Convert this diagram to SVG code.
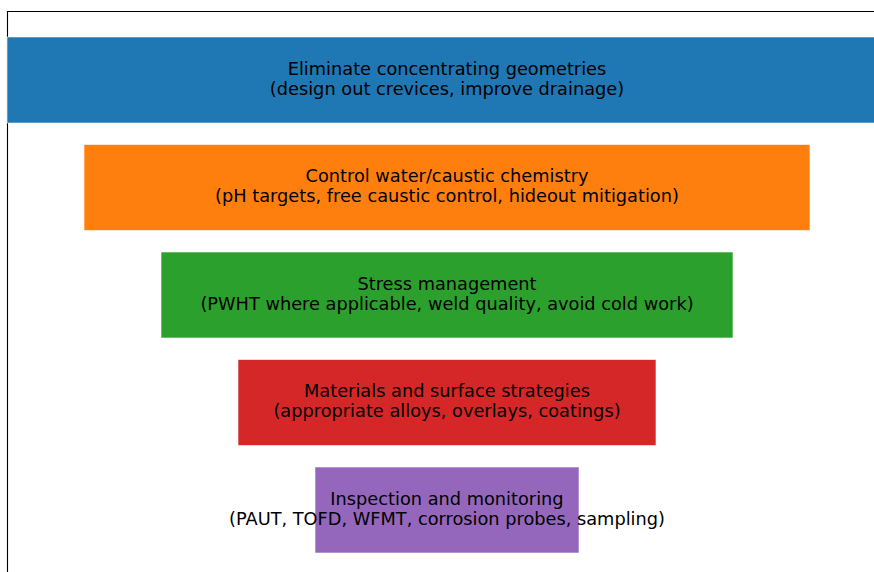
<svg xmlns="http://www.w3.org/2000/svg" width="874" height="572" viewBox="0 0 874 572">
<style>
.bar{stroke:#ffffff;stroke-width:0.6}
.lbl{font-family:"DejaVu Sans",sans-serif;font-size:17.75px;fill:#000;text-anchor:middle}
.frame{fill:none;stroke:#000;stroke-width:1.1}
</style>
<rect width="874" height="572" fill="#fff"/>
<path class="frame" d="M7.5,572 V11.5 H874"/>
<g id="n1">
<rect class="bar" x="7" y="37" width="880" height="86" fill="#1f77b4"/>
<text class="lbl" x="447" y="74.5">Eliminate concentrating geometries</text>
<text class="lbl" x="447" y="94.8">(design out crevices, improve drainage)</text>
</g>
<g id="n2">
<rect class="bar" x="84" y="144.5" width="726" height="86" fill="#ff7f0e"/>
<text class="lbl" x="447" y="182">Control water/caustic chemistry</text>
<text class="lbl" x="447" y="202.3">(pH targets, free caustic control, hideout mitigation)</text>
</g>
<g id="n3">
<rect class="bar" x="161" y="252" width="572" height="86" fill="#2ca02c"/>
<text class="lbl" x="447" y="289.5">Stress management</text>
<text class="lbl" x="447" y="309.8">(PWHT where applicable, weld quality, avoid cold work)</text>
</g>
<g id="n4">
<rect class="bar" x="238" y="359.5" width="418" height="86" fill="#d62728"/>
<text class="lbl" x="447" y="397">Materials and surface strategies</text>
<text class="lbl" x="447" y="417.3">(appropriate alloys, overlays, coatings)</text>
</g>
<g id="n5">
<rect class="bar" x="315" y="467" width="264" height="86" fill="#9467bd"/>
<text class="lbl" x="447" y="504.5">Inspection and monitoring</text>
<text class="lbl" x="447" y="524.8">(PAUT, TOFD, WFMT, corrosion probes, sampling)</text>
</g>
<g id="connectors"></g>
</svg>
